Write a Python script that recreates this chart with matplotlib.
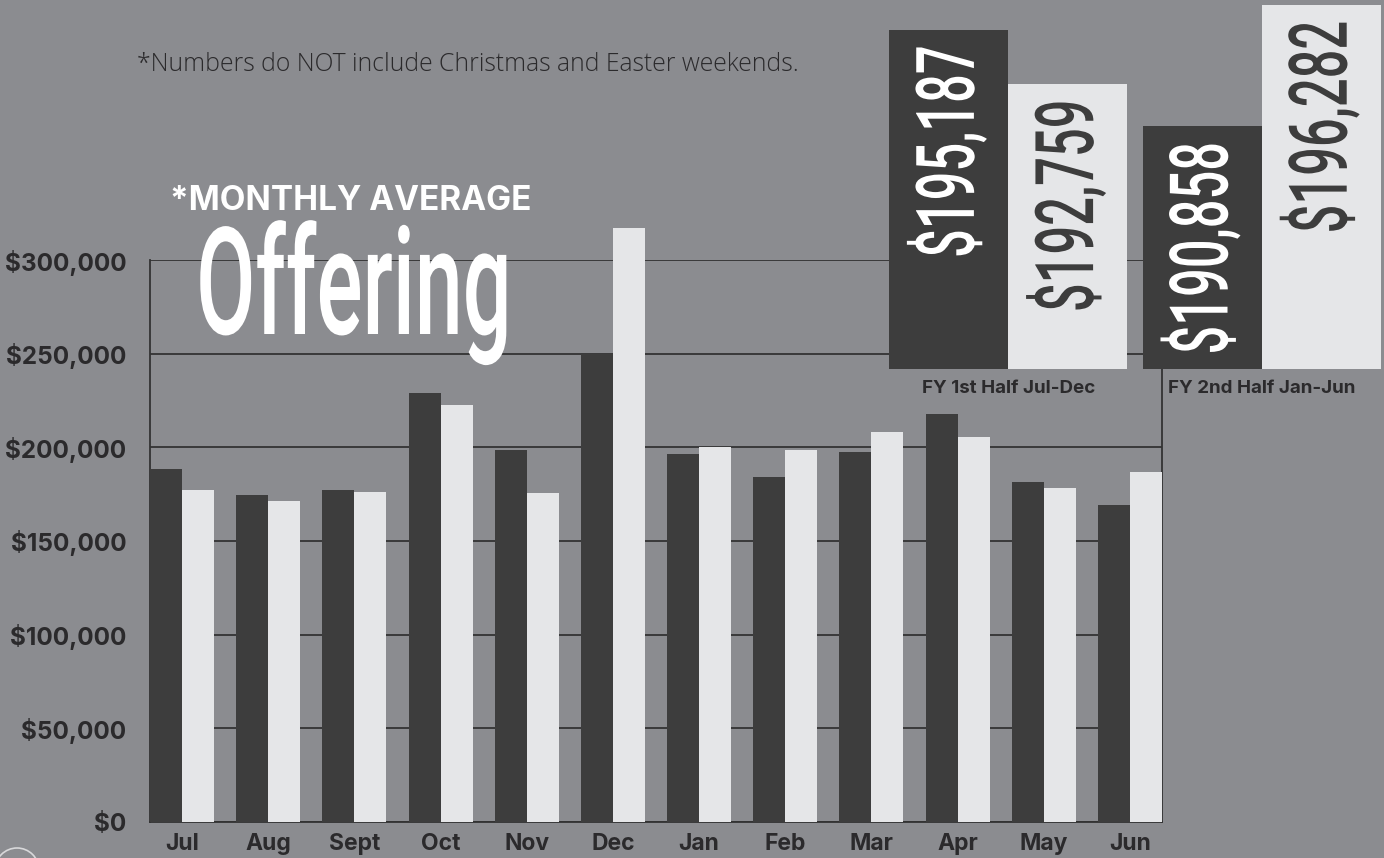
import numpy as np
import matplotlib
matplotlib.use("Agg")
import matplotlib.pyplot as plt
from matplotlib.patches import Circle
from matplotlib.patheffects import AbstractPathEffect
from matplotlib.transforms import Affine2D

# monthly average offering, two fiscal years (dark = earlier, light = later)
months = ["Jul", "Aug", "Sept", "Oct", "Nov", "Dec", "Jan", "Feb", "Mar", "Apr", "May", "Jun"]
year_a = [188300, 174400, 177000, 228800, 198400, 249700, 196300, 184000, 197300, 217600, 181300, 169000]
year_b = [177000, 171200, 176000, 222400, 175400, 316900, 200000, 198400, 208000, 205300, 178100, 186700]

halves = ["FY 1st Half Jul-Dec", "FY 2nd Half Jan-Jun"]
half_a = [195187, 190858]
half_b = [192759, 196282]

y_ticks = [0, 50000, 100000, 150000, 200000, 250000, 300000]

bg = "#8b8c90"
dark = "#3d3d3d"
light = "#e5e6e8"
ink = "#2b2a2c"
bold_font = ["Inter", "DejaVu Sans"]
tall_font = ["Roboto", "DejaVu Sans"]


class Tall(AbstractPathEffect):
    # stretch glyphs across the line so the ink is height_px tall (condensed poster look)
    def __init__(self, height_px, about="center"):
        super().__init__()
        self.height_px = height_px
        self.about = about

    def draw_path(self, renderer, gc, tpath, affine, rgbFace=None):
        ext = tpath.get_extents()
        m = affine.get_matrix()
        unit = np.hypot(m[0, 1], m[1, 1])
        sy = self.height_px / (ext.height * unit)
        y0 = 0 if self.about == "baseline" else (ext.y0 + ext.y1) / 2
        st = Affine2D().translate(0, -y0).scale(1, sy).translate(0, y0)
        renderer.draw_path(gc, tpath, st + affine, rgbFace)


fig = plt.figure(figsize=(13.84, 8.58), dpi=100, facecolor=bg)

# main chart
ax = fig.add_axes([150 / 1384, 36 / 858, 1012 / 1384, 562 / 858])
ax.set_facecolor(bg)
x = np.arange(len(months))
w = 0.371
ax.bar(x - w, year_a, w, align="edge", color=dark, clip_on=False, zorder=3)
ax.bar(x, year_b, w, align="edge", color=light, clip_on=False, zorder=3)

ax.set_xlim(-w, len(months) - 1 + w)
ax.set_ylim(0, 300000)
ax.set_yticks(y_ticks)
ax.set_yticklabels(["$" + f"{v:,}" for v in y_ticks])
ax.set_xticks(x)
ax.set_xticklabels(months)
ax.tick_params(length=0, colors=ink)
ax.tick_params(axis="y", pad=17)
ax.tick_params(axis="x", pad=8)
for lab in ax.get_yticklabels():
    lab.set_fontfamily(bold_font)
    lab.set_fontweight("bold")
    lab.set_fontsize(17.5)
for lab in ax.get_xticklabels():
    lab.set_fontfamily(bold_font)
    lab.set_fontweight("bold")
    lab.set_fontsize(16.5)

ax.grid(axis="y", color="#333333", linewidth=1.3, zorder=1)
ax.set_axisbelow(True)
ax.spines["top"].set_visible(False)
for s in ["left", "right", "bottom"]:
    ax.spines[s].set_color("#333333")
    ax.spines[s].set_linewidth(1.3)

# titles
fig.text(170 / 1384, 1 - 210 / 858, "*MONTHLY AVERAGE", color="white",
         fontsize=24, fontweight="bold", family=bold_font, va="baseline")
offering = fig.text(196 / 1384, 1 - 334 / 858, "Offering", color="white",
                    fontsize=60, fontweight="medium", family=tall_font, va="baseline", zorder=5)
fig.text(137 / 1384, 1 - 71 / 858, "*Numbers do NOT include Christmas and Easter weekends.",
         color=ink, fontsize=17.8, fontweight="light", family=["Open Sans", "DejaVu Sans"],
         va="baseline")

# half-year summary
ax2 = fig.add_axes([889 / 1384, 1 - 368.7 / 858, 492 / 1384, 368.7 / 858])
ax2.patch.set_alpha(0)
hx = np.arange(len(halves))
hw = 0.47
base = 180000
ax2.bar(hx - hw, np.array(half_a) - base, hw, bottom=base, align="edge", color=dark)
ax2.bar(hx, np.array(half_b) - base, hw, bottom=base, align="edge", color=light)
ax2.set_xlim(-hw, len(halves) - 1 + hw)
ax2.set_ylim(base, base + 368.7 / 0.02231)
ax2.set_yticks([])
ax2.set_xticks(hx)
ax2.set_xticklabels(halves)
ax2.tick_params(length=0, colors=ink, pad=8)
for lab in ax2.get_xticklabels():
    lab.set_fontfamily(bold_font)
    lab.set_fontweight("bold")
    lab.set_fontsize(13.5)
for s in ax2.spines.values():
    s.set_visible(False)

big_labels = []
for i in range(len(halves)):
    for xpos, val, col in [(hx[i] - hw / 2, half_a[i], "white"), (hx[i] + hw / 2, half_b[i], dark)]:
        t = ax2.annotate("$" + f"{val:,}", (xpos, val), xytext=(0, -11),
                         textcoords="offset points", rotation=90, ha="center", va="top",
                         color=col, fontsize=30, fontweight="medium", family=tall_font)
        big_labels.append(t)

# fit the poster-style texts to their lengths, then stretch them tall
fig.canvas.draw()
r = fig.canvas.get_renderer()
bb = offering.get_window_extent(r)
offering.set_fontsize(offering.get_fontsize() * 316 / bb.width)
offering.set_path_effects([Tall(145, about="baseline")])
for t in big_labels:
    bb = t.get_window_extent(r)
    t.set_fontsize(t.get_fontsize() * 212 / bb.height)
    t.set_path_effects([Tall(80)])

# small decorative ring at the bottom-left corner
fig.patches.append(Circle((0.17, -0.12), 0.22, transform=fig.dpi_scale_trans,
                          fill=False, edgecolor="#d8d8da", linewidth=1.2))

fig.savefig("out.png", dpi=100, facecolor=bg)
